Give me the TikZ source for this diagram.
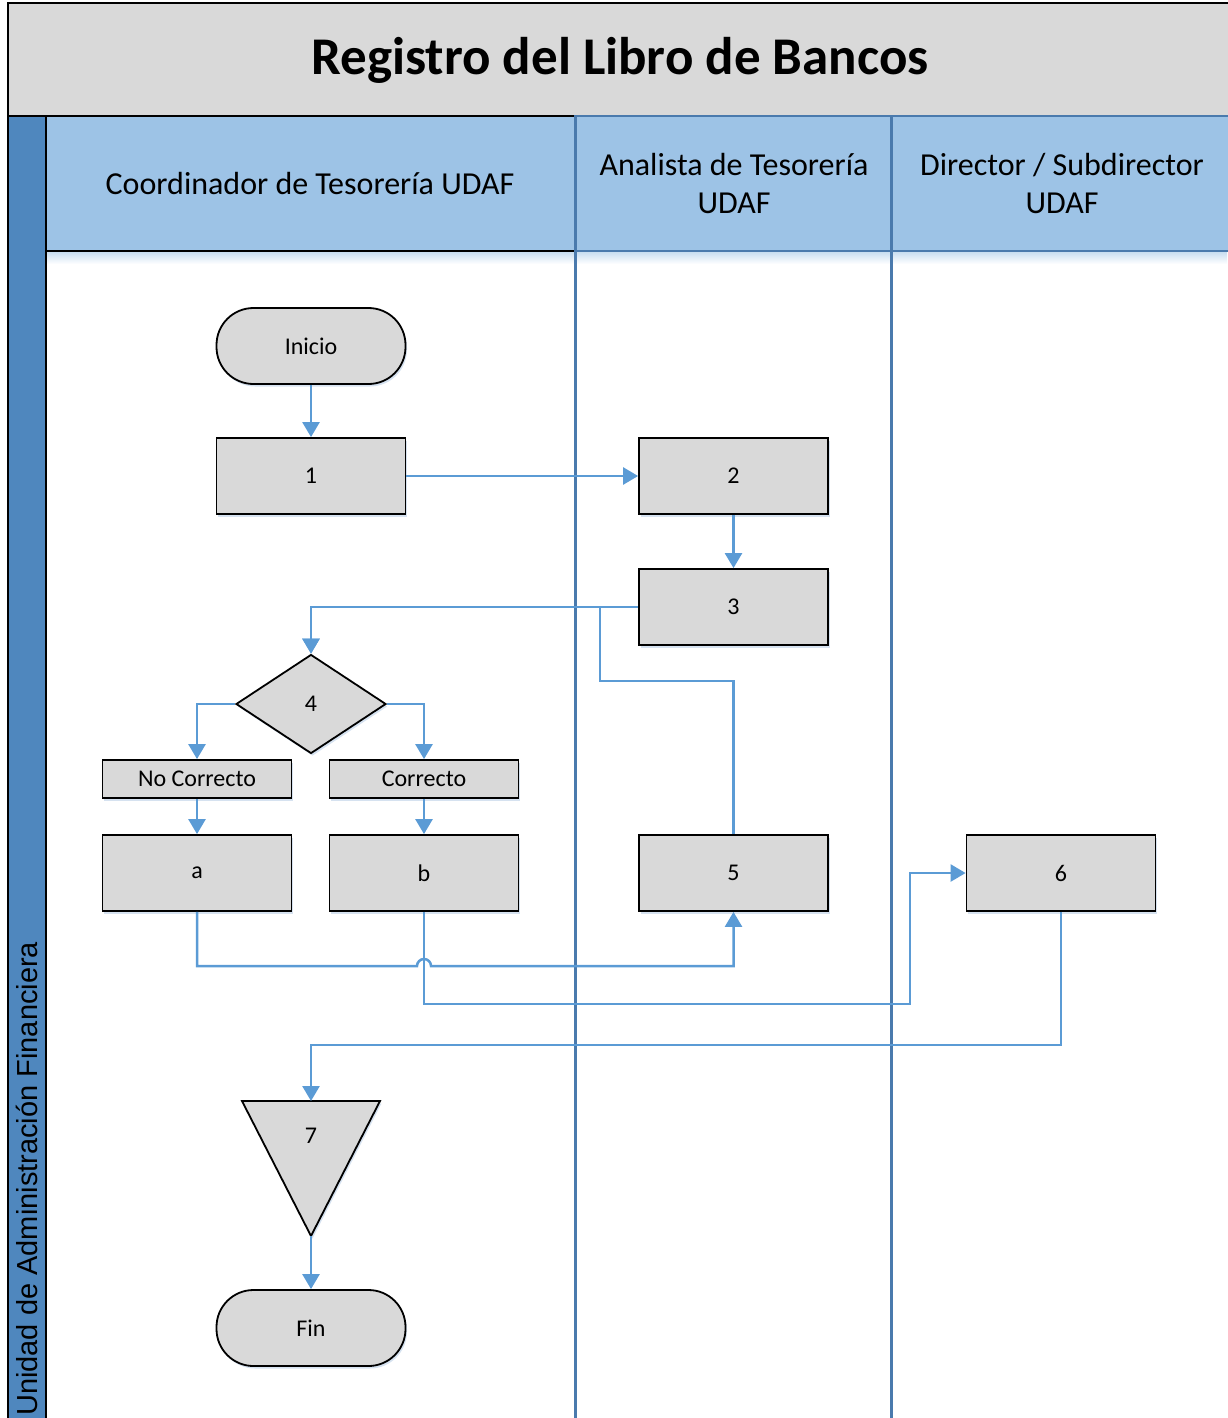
\documentclass[tikz,border=0pt]{standalone}
\usepackage{fontspec}
\setmainfont{Carlito}
\newfontfamily\lanefont{Liberation Sans}
\usetikzlibrary{arrows.meta,shapes.geometric,shadows}
\definecolor{boxgray}{HTML}{D9D9D9}
\definecolor{headblue}{HTML}{9DC3E6}
\definecolor{bandblue}{HTML}{4F87BE}
\definecolor{laneline}{HTML}{4A7AAD}
\definecolor{flowblue}{HTML}{5B9BD5}
\definecolor{shadowblue}{HTML}{D6E2F0}
\begin{document}
\begin{tikzpicture}[x=1pt,y=-1pt,
  softshadow/.style={drop shadow={shadow xshift=1.5pt,shadow yshift=-2.5pt,fill=shadowblue,opacity=1}},
  nodefont/.style={font=\fontsize{24}{28}\selectfont},
  stepbox/.style={draw=black,line width=1.8pt,fill=boxgray,minimum width=189pt,minimum height=76pt,inner sep=0pt,nodefont,softshadow},
  labelbox/.style={stepbox,minimum height=38pt},
  terminal/.style={stepbox,rounded corners=37pt},
  decision/.style={diamond,draw=black,line width=1.8pt,fill=boxgray,minimum width=150pt,minimum height=99pt,inner sep=0pt,nodefont,softshadow},
  flow/.style={draw=flowblue,line width=2.5pt,-{Triangle[width=17pt,length=15pt]}},
  headtext/.style={font=\fontsize{32}{38}\selectfont,align=center}]

\useasboundingbox (0,0) rectangle (1227,1418);

% title band
\draw[line width=2pt,fill=boxgray] (8,3) rectangle (1232,116);
\node (title) at (620,60) {\fontsize{53}{58}\selectfont\bfseries Registro del Libro de Bancos};

% soft shade under the lane headers
\shade[top color=headblue!60,bottom color=white] (46,251) rectangle (1227,264);

% lane headers
\draw[line width=2pt,fill=headblue] (46,116) rectangle (575,251);
\draw[line width=2pt,draw=laneline,fill=headblue] (575,116) rectangle (891,251);
\draw[line width=2pt,draw=laneline,fill=headblue] (891,116) rectangle (1232,251);
\node[headtext] (h1) at (310,184) {Coordinador de Tesorería UDAF};
\node[headtext] (h2) at (734,184) {Analista de Tesorería\\UDAF};
\node[headtext] (h3) at (1062,184) {Director / Subdirector\\UDAF};

% lane separators
\draw[line width=3pt,draw=laneline] (575,116) -- (575,1425);
\draw[line width=3pt,draw=laneline] (891,116) -- (891,1425);

% pool band on the left
\draw[line width=2pt,fill=bandblue] (8,116) rectangle (46,1425);
\node[rotate=90,anchor=base west,inner sep=0pt] (pool) at (37,1416)
  {\lanefont\fontsize{29}{32}\selectfont Unidad de Administración Financiera};

% flow nodes
\node[terminal] (ini) at (311,346) {Inicio};
\node[stepbox] (n1) at (311,476) {1};
\node[stepbox] (n2) at (733.5,476) {2};
\node[stepbox] (n3) at (733.5,607) {3};
\node[decision] (n4) at (311,704) {4};
\node[labelbox] (nc1) at (197,779) {No Correcto};
\node[labelbox] (nc2) at (424,779) {Correcto};
\node[stepbox] (na) at (197,873) {a};
\node[stepbox] (nb) at (424,873) {b};
\node[stepbox] (n5) at (733.5,873) {5};
\node[stepbox] (n6) at (1061,873) {6};
\filldraw[line width=1.8pt,fill=boxgray,softshadow] (242,1101) -- (380,1101) -- (311,1236) -- cycle;
\coordinate (n7top) at (311,1101);
\coordinate (n7tip) at (311,1236);
\node[nodefont] (n7) at (311,1136) {7};
\node[terminal] (fin) at (311,1328) {Fin};

% connectors
\draw[flow] (ini) -- (n1);
\draw[flow] (n1) -- (n2);
\draw[flow] (n2) -- (n3);
\draw[flow] (n3.west) -| (n4.north);
\draw[flow] (n5.north) |- (600,681) -- (600,607) -| (n4.north);
\draw[flow] (n4.west) -| (nc1.north);
\draw[flow] (n4.east) -| (nc2.north);
\draw[flow] (nc1) -- (na);
\draw[flow] (nc2) -- (nb);
\draw[flow] (na.south) |- (417,966) arc[start angle=180,end angle=360,radius=7] -| (n5.south);
\draw[flow] (nb.south) |- (910,1004) |- (n6.west);
\draw[flow] (n6.south) |- (311,1045) -- (n7top);
\draw[flow] (n7tip) -- (fin);
\end{tikzpicture}
\end{document}
